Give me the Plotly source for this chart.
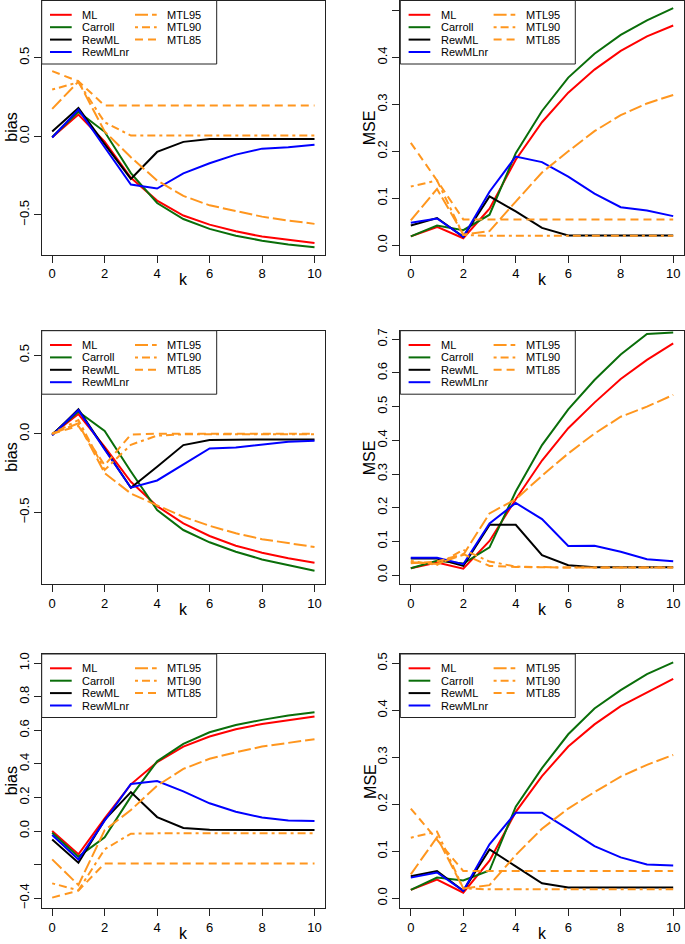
import plotly.graph_objects as go

# ---------------- data ----------------
k = list(range(11))
series_names = ["ML", "Carroll", "RewML", "RewMLnr", "MTL95", "MTL90", "MTL85"]
series_colors = ["#ff0000", "#0a6e0a", "#000000", "#0000ff", "#ff961e", "#ff961e", "#ff961e"]
series_dash = ["solid", "solid", "solid", "solid", "13px,4px", "3px,4px,8px,4px", "8px,5px"]

# panel 1: bias (top)
p1_ML = [-0.006, 0.138, -0.035, -0.265, -0.41, -0.505, -0.563, -0.605, -0.639, -0.66, -0.68]
p1_Carroll = [-0.005, 0.155, 0.028, -0.235, -0.425, -0.527, -0.59, -0.633, -0.665, -0.69, -0.707]
p1_RewML = [0.03, 0.18, -0.05, -0.272, -0.10, -0.036, -0.017, -0.017, -0.017, -0.017, -0.017]
p1_RewMLnr = [-0.008, 0.17, -0.07, -0.308, -0.333, -0.236, -0.172, -0.117, -0.079, -0.07, -0.055]
p1_MTL95 = [0.174, 0.348, 0.03, -0.134, -0.282, -0.38, -0.44, -0.478, -0.512, -0.537, -0.558]
p1_MTL90 = [0.297, 0.344, 0.089, 0.004, 0.004, 0.004, 0.004, 0.004, 0.004, 0.004, 0.004]
p1_MTL85 = [0.414, 0.35, 0.195, 0.195, 0.195, 0.195, 0.195, 0.195, 0.195, 0.195, 0.195]

# panel 2: MSE (top)
p2_ML = [0.019, 0.039, 0.015, 0.078, 0.182, 0.262, 0.325, 0.374, 0.414, 0.445, 0.468]
p2_Carroll = [0.019, 0.042, 0.032, 0.065, 0.196, 0.286, 0.357, 0.408, 0.448, 0.479, 0.505]
p2_RewML = [0.042, 0.058, 0.018, 0.104, 0.072, 0.037, 0.021, 0.021, 0.021, 0.021, 0.021]
p2_RewMLnr = [0.048, 0.057, 0.018, 0.114, 0.189, 0.177, 0.146, 0.11, 0.081, 0.074, 0.062]
p2_MTL95 = [0.053, 0.12, 0.023, 0.03, 0.093, 0.155, 0.2, 0.243, 0.277, 0.302, 0.32]
p2_MTL90 = [0.125, 0.138, 0.022, 0.02, 0.02, 0.02, 0.02, 0.02, 0.02, 0.02, 0.02]
p2_MTL85 = [0.218, 0.138, 0.055, 0.055, 0.055, 0.055, 0.055, 0.055, 0.055, 0.055, 0.055]

# panel 3: bias (middle)
p3_ML = [-0.004, 0.125, -0.083, -0.305, -0.46, -0.57, -0.65, -0.712, -0.756, -0.792, -0.82]
p3_Carroll = [-0.004, 0.14, 0.017, -0.24, -0.485, -0.612, -0.69, -0.75, -0.799, -0.837, -0.871]
p3_RewML = [-0.008, 0.155, -0.095, -0.343, -0.21, -0.072, -0.04, -0.037, -0.036, -0.036, -0.036]
p3_RewMLnr = [-0.01, 0.15, -0.1, -0.343, -0.297, -0.193, -0.093, -0.087, -0.068, -0.051, -0.044]
p3_MTL95 = [0.0, 0.066, -0.25, -0.38, -0.455, -0.528, -0.585, -0.633, -0.67, -0.697, -0.72]
p3_MTL90 = [0.0, 0.087, -0.23, -0.07, -0.012, -0.004, -0.004, -0.004, -0.004, -0.004, -0.004]
p3_MTL85 = [0.0, 0.05, -0.2, -0.005, 0.0, 0.0, 0.0, 0.0, 0.0, 0.0, 0.0]

# panel 4: MSE (middle)
p4_ML = [0.02, 0.037, 0.019, 0.101, 0.225, 0.34, 0.436, 0.512, 0.582, 0.639, 0.688]
p4_Carroll = [0.02, 0.042, 0.034, 0.082, 0.248, 0.386, 0.492, 0.579, 0.655, 0.716, 0.72]
p4_RewML = [0.049, 0.049, 0.027, 0.149, 0.149, 0.059, 0.029, 0.023, 0.023, 0.023, 0.023]
p4_RewMLnr = [0.051, 0.051, 0.032, 0.153, 0.214, 0.166, 0.086, 0.087, 0.069, 0.047, 0.041]
p4_MTL95 = [0.038, 0.033, 0.06, 0.183, 0.225, 0.295, 0.361, 0.42, 0.47, 0.5, 0.535]
p4_MTL90 = [0.042, 0.03, 0.075, 0.04, 0.025, 0.023, 0.022, 0.022, 0.022, 0.022, 0.022]
p4_MTL85 = [0.035, 0.04, 0.062, 0.027, 0.024, 0.022, 0.022, 0.022, 0.022, 0.022, 0.022]

# panel 5: bias (bottom)
p5_ML = [0.0, -0.139, 0.075, 0.278, 0.41, 0.503, 0.563, 0.606, 0.638, 0.662, 0.682]
p5_Carroll = [-0.01, -0.153, -0.038, 0.205, 0.415, 0.519, 0.588, 0.632, 0.662, 0.688, 0.708]
p5_RewML = [-0.05, -0.189, 0.066, 0.232, 0.083, 0.018, 0.007, 0.006, 0.006, 0.006, 0.006]
p5_RewMLnr = [-0.024, -0.17, 0.062, 0.28, 0.298, 0.236, 0.165, 0.115, 0.08, 0.062, 0.06]
p5_MTL95 = [-0.169, -0.322, 0.005, 0.125, 0.27, 0.37, 0.43, 0.469, 0.503, 0.523, 0.547]
p5_MTL90 = [-0.312, -0.353, -0.109, -0.016, -0.014, -0.014, -0.014, -0.014, -0.014, -0.014, -0.014]
p5_MTL85 = [-0.397, -0.355, -0.193, -0.193, -0.193, -0.193, -0.193, -0.193, -0.193, -0.193, -0.193]

# panel 6: MSE (bottom)
p6_ML = [0.018, 0.04, 0.012, 0.08, 0.184, 0.26, 0.323, 0.37, 0.409, 0.438, 0.467]
p6_Carroll = [0.018, 0.044, 0.038, 0.059, 0.195, 0.277, 0.349, 0.404, 0.443, 0.477, 0.502]
p6_RewML = [0.047, 0.058, 0.016, 0.104, 0.068, 0.032, 0.023, 0.023, 0.023, 0.023, 0.023]
p6_RewMLnr = [0.044, 0.055, 0.016, 0.115, 0.182, 0.182, 0.147, 0.111, 0.087, 0.072, 0.07]
p6_MTL95 = [0.051, 0.13, 0.021, 0.028, 0.092, 0.148, 0.191, 0.226, 0.259, 0.284, 0.305]
p6_MTL90 = [0.129, 0.142, 0.021, 0.019, 0.019, 0.019, 0.019, 0.019, 0.019, 0.019, 0.019]
p6_MTL85 = [0.191, 0.124, 0.058, 0.058, 0.058, 0.058, 0.058, 0.058, 0.058, 0.058, 0.058]

panel_titles = ["bias", "MSE", "bias", "MSE", "bias", "MSE"]
x_ticks = [0, 2, 4, 6, 8, 10]
y_ticks_1 = [-0.5, 0.0, 0.5]
y_ticks_2 = [0.0, 0.1, 0.2, 0.3, 0.4, 0.5]
y_ticks_3 = [-0.5, 0.0, 0.5]
y_ticks_4 = [0.0, 0.1, 0.2, 0.3, 0.4, 0.5, 0.6, 0.7]
y_ticks_5 = [-0.4, -0.2, 0.0, 0.2, 0.4, 0.6, 0.8, 1.0]
y_ticks_6 = [0.0, 0.1, 0.2, 0.3, 0.4, 0.5]
y_ticklabels_5 = ["\u22120.4", "", "0.0", "0.2", "0.4", "0.6", "0.8", "1.0"]

panels = [
    [p1_ML, p1_Carroll, p1_RewML, p1_RewMLnr, p1_MTL95, p1_MTL90, p1_MTL85],
    [p2_ML, p2_Carroll, p2_RewML, p2_RewMLnr, p2_MTL95, p2_MTL90, p2_MTL85],
    [p3_ML, p3_Carroll, p3_RewML, p3_RewMLnr, p3_MTL95, p3_MTL90, p3_MTL85],
    [p4_ML, p4_Carroll, p4_RewML, p4_RewMLnr, p4_MTL95, p4_MTL90, p4_MTL85],
    [p5_ML, p5_Carroll, p5_RewML, p5_RewMLnr, p5_MTL95, p5_MTL90, p5_MTL85],
    [p6_ML, p6_Carroll, p6_RewML, p6_RewMLnr, p6_MTL95, p6_MTL90, p6_MTL85],
]
y_tick_sets = [y_ticks_1, y_ticks_2, y_ticks_3, y_ticks_4, y_ticks_5, y_ticks_6]
y_ranges = [(-0.753, 0.864), (-0.0197, 0.5212), (-0.957, 0.655),
            (-0.0276, 0.7256), (-0.4605, 1.0545), (-0.0213, 0.5198)]


def fmt(v):
    s = "%.1f" % v
    return s.replace("-", "\u2212")


# ---------------- layout geometry (pixels) ----------------
W, H = 685, 944
boxes = [(41.7, 325.0, 0.5, 254.5), (400.3, 683.7, 0.5, 254.5),
         (41.7, 325.0, 330.7, 584.3), (400.3, 683.7, 330.7, 584.3),
         (41.7, 325.0, 654.0, 908.3), (400.3, 683.7, 654.0, 908.3)]

FONT = "Liberation Sans, Arial, sans-serif"
AXC = "#222222"

fig = go.Figure()
shapes = []
annotations = []
layout_axes = {}

for i, (data, box) in enumerate(zip(panels, boxes)):
    n = i + 1
    xa = "x" if n == 1 else "x%d" % n
    ya = "y" if n == 1 else "y%d" % n
    for name, color, dash, vals in zip(series_names, series_colors, series_dash, data):
        fig.add_trace(go.Scatter(
            x=k, y=vals, mode="lines", name=name, showlegend=False,
            line=dict(color=color, width=2, dash=dash),
            xaxis=xa, yaxis=ya, hoverinfo="skip"))
    x0, x1, y0, y1 = box
    yt = y_tick_sets[i]
    ytext = y_ticklabels_5 if n == 5 else [fmt(v) for v in yt]
    common = dict(showline=True, mirror=True, linecolor=AXC, linewidth=1,
                  ticks="outside", ticklen=7, tickwidth=1, tickcolor=AXC,
                  showgrid=False, zeroline=False, automargin=False,
                  tickfont=dict(family=FONT, size=13, color="#000000"))
    layout_axes["xaxis" if n == 1 else "xaxis%d" % n] = dict(
        domain=[x0 / W, x1 / W], anchor=ya, range=[-0.4, 10.4],
        tickvals=x_ticks, ticktext=[str(v) for v in x_ticks], **common)
    layout_axes["yaxis" if n == 1 else "yaxis%d" % n] = dict(
        domain=[1 - y1 / H, 1 - y0 / H], anchor=xa, range=list(y_ranges[i]),
        tickvals=yt, ticktext=ytext, tickangle=-90, **common)

    xd = xa + " domain"
    yd = ya + " domain"
    # axis titles
    annotations.append(dict(text="k", xref=xd, yref=yd, x=0.5, y=0, yshift=-25,
                            xanchor="center", yanchor="middle", showarrow=False,
                            font=dict(family=FONT, size=16, color="#000000")))
    annotations.append(dict(text=panel_titles[i], xref=xd, yref=yd, x=0, y=0.5,
                            xshift=-30.5, xanchor="center", yanchor="middle",
                            textangle=-90, showarrow=False,
                            font=dict(family=FONT, size=16, color="#000000")))
    # legend box
    shapes.append(dict(type="rect", xref=xd, yref=yd, xsizemode="pixel",
                       ysizemode="pixel", xanchor=0, yanchor=1,
                       x0=0, x1=175, y0=0, y1=-63.5,
                       line=dict(color=AXC, width=1), fillcolor="white",
                       layer="above"))
    for j, (name, color, dash) in enumerate(zip(series_names, series_colors, series_dash)):
        col = 0 if j < 4 else 1
        row = j if j < 4 else j - 4
        lx0 = 8.3 if col == 0 else 93.3
        tx = 38.3 if col == 0 else 123.3
        ly = -(14.3 + 12.4 * row)
        shapes.append(dict(type="line", xref=xd, yref=yd, xsizemode="pixel",
                           ysizemode="pixel", xanchor=0, yanchor=1,
                           x0=lx0, x1=lx0 + 21.7, y0=ly, y1=ly,
                           line=dict(color=color, width=2, dash=dash),
                           layer="above"))
        annotations.append(dict(text=name, xref=xd, yref=yd, x=0, y=1,
                                xshift=tx, yshift=ly, xanchor="left",
                                yanchor="middle", showarrow=False,
                                font=dict(family=FONT, size=11, color="#000000")))

fig.update_layout(
    width=W, height=H, margin=dict(l=0, r=0, t=0, b=0, autoexpand=False),
    paper_bgcolor="white", plot_bgcolor="white", showlegend=False,
    hovermode=False,
    shapes=shapes, annotations=annotations, **layout_axes)

fig.write_html("out.html",
               config={"displayModeBar": False, "staticPlot": True},
               post_script="document.body.style.margin='0';"
                           "document.body.style.overflow='hidden';")
